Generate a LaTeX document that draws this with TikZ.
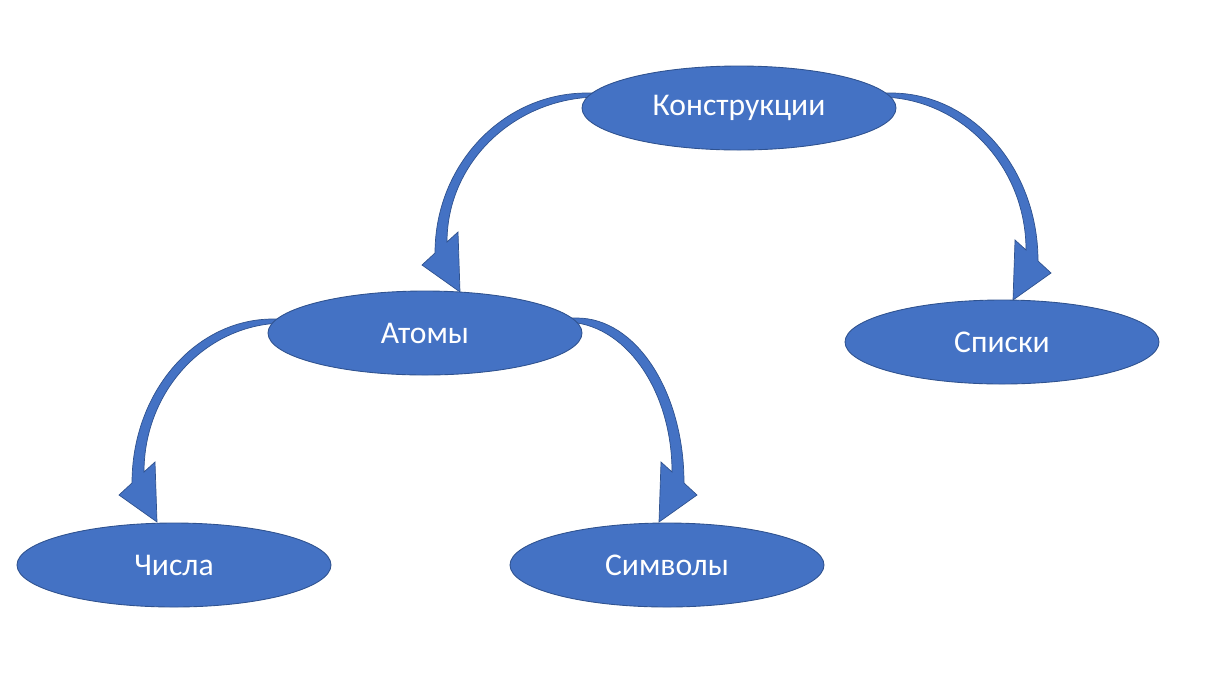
\documentclass[tikz,border=0pt]{standalone}
\usepackage{fontspec}
\setmainfont{Carlito}
\usetikzlibrary{calc, shapes, positioning}
\definecolor{ovalblue}{RGB}{68,114,196}
\definecolor{ovalline}{RGB}{47,82,143}
\tikzstyle{oval}=[ellipse, draw=ovalline, fill=ovalblue, line width=0.5pt, minimum width=62.8mm, minimum height=16.8mm, inner sep=0pt, outer sep=0pt, text=white, font=\fontsize{18}{20}\selectfont]
\tikzstyle{bent}=[fill=ovalblue, draw=ovalline, line width=0.4pt, line join=miter]
\pgfdeclarelayer{back}
\pgfsetlayers{back,main}

% #1 start of the band, #2 tip of the head, #3 side (1 right, -1 left)
\newcommand{\bentarrow}[3]{%
\coordinate (#2-oe) at ($(#2)+({#3*25},-39)$);
\coordinate (#2-ie) at ($(#2)+({#3*13},-50)$);
\coordinate (#2-fl) at ($(#2)+({#3*38},-27)$);
\coordinate (#2-hd) at ($(#2)+({#3*2},-60)$);
\coordinate (#2-is) at ($(#1)+({#3*-12},4)$);
\filldraw[bent] ($(#1)+({#3*-25},0)$) -- (#1)
  .. controls ($(#1)!0.552!(#2-oe |- #1)$) and ($(#2-oe)!0.552!(#2-oe |- #1)$) .. (#2-oe)
  -- (#2-fl) -- (#2) -- (#2-hd) -- (#2-ie)
  .. controls ($(#2-ie)!0.552!(#2-ie |- #2-is)$) and ($(#2-is)!0.552!(#2-ie |- #2-is)$) .. (#2-is)
  -- ($(#2-is)+({#3*-13},0)$) -- cycle;
}

\begin{document}
\begin{tikzpicture}[x=0.2mm, y=-0.2mm]
\useasboundingbox (0,0) rectangle (1229,676);
\node[oval] (kon) at (739,108) {Конструкции};
\node[oval] (atom) at (425,333) {Атомы};
\node[oval] (spis) at (1002,342) {Списки};
\node[oval] (chisla) at (174,565) {Числа};
\node[oval] (simv) at (667,565) {Символы};

\coordinate (s1) at ($(kon.west)+(5,-15)$); \coordinate (t1) at ($(atom.north)+(35,1)$);
\coordinate (s2) at ($(kon.east)+(-5,-15)$); \coordinate (t2) at ($(spis.north)+(11,0)$);
\coordinate (s3) at ($(atom.west)+(5,-14)$); \coordinate (t3) at ($(chisla.north)+(-17,-1)$);
\coordinate (s4) at ($(atom.east)+(-5,-15)$); \coordinate (t4) at ($(simv.north)+(-8,-1)$);

\begin{pgfonlayer}{back}
\bentarrow{s1}{t1}{-1}
\bentarrow{s2}{t2}{1}
\bentarrow{s3}{t3}{-1}
\bentarrow{s4}{t4}{1}
\end{pgfonlayer}
\end{tikzpicture}
\end{document}
